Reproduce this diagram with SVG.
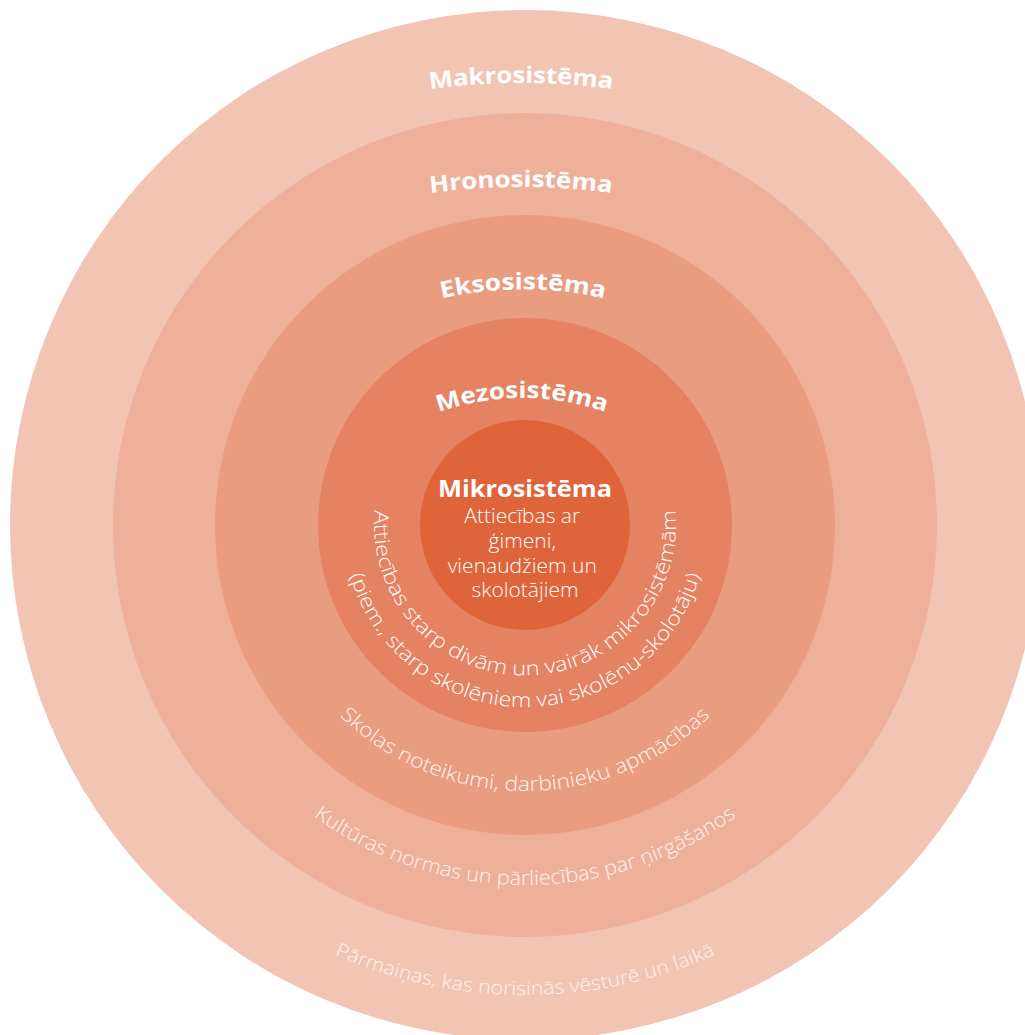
<svg xmlns="http://www.w3.org/2000/svg" width="1025" height="1035" viewBox="0 0 1025 1035">
<style>
.title{font-family:"Open Sans","Noto Sans",sans-serif;font-weight:700;font-size:23px;fill:#fff}
.arc{font-family:"Open Sans","Noto Sans",sans-serif;font-weight:300;font-size:20px;fill:#fff}
.body{font-family:"Open Sans","Noto Sans",sans-serif;font-weight:300;font-size:21px;fill:#fff}
</style>
<defs>
<path id="pMakroT" d="M 321 112.6 A 690 690 0 0 1 721 112.6"/>
<path id="pHronoT" d="M 321 216.6 A 690 690 0 0 1 721 216.6"/>
<path id="pEksoT" d="M 373 320.8 A 374 374 0 0 1 673 320.8"/>
<path id="pMezoT" d="M 402 428.6 A 250 250 0 0 1 642 428.6"/>
<path id="pMezo1" d="M 374.6 511 A 151 151 0 1 0 675.4 511"/>
<path id="pMezo2" d="M 354 462.8 A 182 182 0 1 0 696 462.8"/>
<path id="pEkso" d="M 294.6 658 A 266 266 0 0 0 755.4 658"/>
<path id="pHrono" d="M 230.1 731.5 A 360 360 0 0 0 819.9 731.5"/>
<path id="pMakro" d="M 222.9 885 A 470 470 0 0 0 827.1 885"/>
</defs>
<g id="makrosistema">
<circle cx="525" cy="525" r="515" fill="#F2C4B4"/>
<text class="title"><textPath href="#pMakroT" startOffset="50%" text-anchor="middle" textLength="183" lengthAdjust="spacingAndGlyphs">Makrosistēma</textPath></text>
</g>
<g id="hronosistema">
<circle cx="525" cy="525" r="412" fill="#EFB09A"/>
<text class="title"><textPath href="#pHronoT" startOffset="50%" text-anchor="middle" textLength="182" lengthAdjust="spacingAndGlyphs">Hronosistēma</textPath></text>
</g>
<g id="eksosistema">
<circle cx="525" cy="525" r="310" fill="#EA9C81"/>
<text class="title"><textPath href="#pEksoT" startOffset="50%" text-anchor="middle" textLength="164" lengthAdjust="spacingAndGlyphs">Eksosistēma</textPath></text>
</g>
<g id="mezosistema">
<circle cx="525" cy="525" r="207" fill="#E58262"/>
<text class="title"><textPath href="#pMezoT" startOffset="50%" text-anchor="middle" textLength="170" lengthAdjust="spacingAndGlyphs">Mezosistēma</textPath></text>
</g>
<g id="mikrosistema">
<circle cx="525" cy="525" r="105" fill="#E0643A"/>
<text class="title" x="525" y="497" text-anchor="middle" textLength="174" lengthAdjust="spacingAndGlyphs">Mikrosistēma</text>
<text class="body" text-anchor="middle">
<tspan x="525" y="523">Attiecības ar</tspan>
<tspan x="525" y="548">ģimeni,</tspan>
<tspan x="525" y="573">vienaudžiem un</tspan>
<tspan x="525" y="597">skolotājiem</tspan>
</text>
</g>
<g id="ring-labels">
<text class="arc"><textPath href="#pMezo1" startOffset="50%" text-anchor="middle" textLength="503" lengthAdjust="spacingAndGlyphs">Attiecības starp divām un vairāk mikrosistēmām</textPath></text>
<text class="arc"><textPath href="#pMezo2" startOffset="50%" text-anchor="middle" textLength="470" lengthAdjust="spacingAndGlyphs">(piem., starp skolēniem vai skolēnu-skolotāju)</textPath></text>
<text class="arc" fill-opacity="0.92"><textPath href="#pEkso" startOffset="50%" text-anchor="middle" textLength="410" lengthAdjust="spacingAndGlyphs">Skolas noteikumi, darbinieku apmācības</textPath></text>
<text class="arc" fill-opacity="0.88"><textPath href="#pHrono" startOffset="50%" text-anchor="middle" textLength="452" lengthAdjust="spacingAndGlyphs">Kultūras normas un pārliecības par ņirgāšanos</textPath></text>
<text class="arc" fill-opacity="0.8" style="font-size:19px"><textPath href="#pMakro" startOffset="50%" text-anchor="middle" textLength="392" lengthAdjust="spacingAndGlyphs">Pārmaiņas, kas norisinās vēsturē un laikā</textPath></text>
</g>
</svg>
